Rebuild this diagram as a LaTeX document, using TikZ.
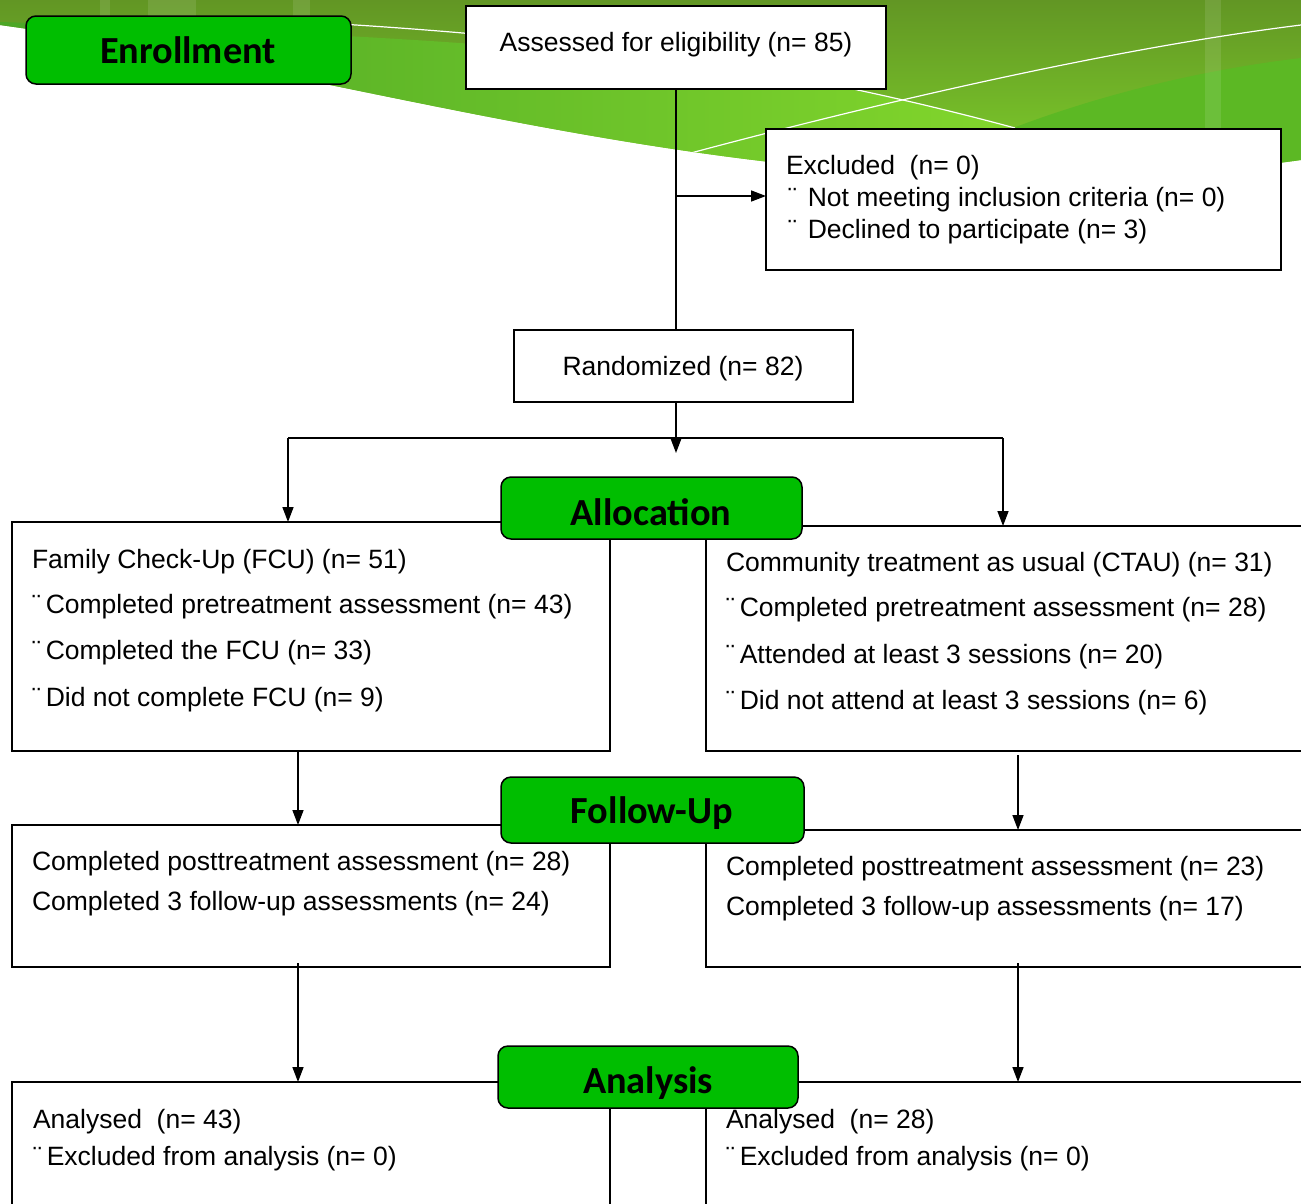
\documentclass[tikz,border=0pt]{standalone}
\usepackage{fontspec}
\setmainfont{Liberation Sans}
\newfontfamily\hdrfont{Carlito}
\usetikzlibrary{arrows.meta}
\definecolor{hgreen}{RGB}{0,190,0}
\definecolor{gtop}{RGB}{98,150,36}
\definecolor{glime}{RGB}{130,214,44}
\definecolor{gband}{RGB}{76,166,38}
\definecolor{gmid}{RGB}{92,184,36}
\newcommand\fs{\fontsize{26.5}{31}\selectfont}
\newcommand\hfs{\hdrfont\bfseries\fontsize{38.3}{44}\selectfont}
\tikzset{
  box/.style={draw, line width=1.8pt, fill=white, anchor=north west, outer sep=0pt, inner sep=0pt},
  hdr/.style={draw, line width=1.5pt, fill=hgreen, rounded corners=10pt, anchor=north west, outer sep=0pt, inner sep=0pt},
  txt/.style={anchor=base west, inner sep=0pt, outer sep=0pt, font=\fs},
  ctxt/.style={anchor=base, inner sep=0pt, outer sep=0pt, font=\fs},
  htxt/.style={anchor=base, inner sep=0pt, outer sep=0pt, font=\hfs},
  conn/.style={line width=1.5pt},
  arr/.style={conn, -{Triangle[length=15pt,width=11pt]}},
  wline/.style={white, line width=1.2pt}
}
\begin{document}
\begin{tikzpicture}[x=1pt,y=-1pt]
\useasboundingbox (0,0) rectangle (1301,1203);
\clip (0,0) rectangle (1301,1203);
\fill[white] (0,0) rectangle (1301,1203);
% background wave
\begin{scope}
  \clip (0,0) -- (1301,0) -- (1301,160) .. controls (800,230) and (400,80) .. (0,25) -- cycle;
  \shade[top color=gtop, bottom color=glime] (0,0) rectangle (1301,200);
  \shade[left color=gband, right color=glime] (0,22) .. controls (600,40) and (800,70) .. (1015,128) -- (1015,260) -- (0,260) -- cycle;
  \fill[gmid] (1013,128) .. controls (1100,95) and (1200,70) .. (1301,58) -- (1301,260) -- (1013,260) -- cycle;
  \fill[white, opacity=0.10] (100,0) rectangle (110,200);
  \fill[white, opacity=0.10] (148,0) rectangle (196,200);
  \fill[white, opacity=0.10] (293,0) rectangle (310,200);
  \fill[white, opacity=0.10] (1205,0) rectangle (1221,200);
  \draw[wline] (340,24) .. controls (600,40) and (800,70) .. (1015,128);
  \draw[wline] (676,157) .. controls (850,110) and (1100,50) .. (1301,25);
\end{scope}
% boxes
\node[box, minimum width=420pt, minimum height=83pt] (assess) at (466,6) {};
\node[box, minimum width=515pt, minimum height=141pt] (excl) at (766,129) {};
\node[box, minimum width=339pt, minimum height=72pt] (rand) at (514,330) {};
\node[box, minimum width=598pt, minimum height=229pt] (fcu) at (12,522) {};
\node[box, minimum width=620pt, minimum height=225pt] (ctau) at (706,526) {};
\node[box, minimum width=598pt, minimum height=142pt] (l2) at (12,825) {};
\node[box, minimum width=620pt, minimum height=137pt] (r2) at (706,830) {};
\node[box, minimum width=598pt, minimum height=160pt] (l3) at (12,1082) {};
\node[box, minimum width=620pt, minimum height=160pt] (r3) at (706,1082) {};
% connectors
\draw[conn] (assess.south) -- (assess.south |- rand.north);
\coordinate (j1) at (676,196);
\draw[arr] (j1) -- (j1 -| excl.west);
\coordinate (rtip) at (676,453);
\draw[arr] (rand.south -| assess.south) -- (rtip);
\coordinate (hl) at (288,438);
\coordinate (hr) at (1003,438);
\draw[conn] (hl) -- (hr);
\draw[arr] (hl) -- (hl |- fcu.north);
\draw[arr] (hr) -- (hr |- ctau.north);
\coordinate (a1) at (298,751);
\coordinate (a2) at (1018,755);
\coordinate (a3) at (298,963);
\coordinate (a4) at (1018,963);
\draw[arr] (a1) -- (a1 |- l2.north);
\draw[arr] (a2) -- (a2 |- r2.north);
\draw[arr] (a3) -- (a3 |- l3.north);
\draw[arr] (a4) -- (a4 |- r3.north);
% headers
\node[hdr, minimum width=325pt, minimum height=68pt] (enr) at (26,16) {};
\node[hdr, minimum width=301pt, minimum height=62pt] (alloc) at (501,477) {};
\node[hdr, minimum width=303pt, minimum height=66pt] (fu) at (501,777) {};
\node[hdr, minimum width=300pt, minimum height=62pt] (ana) at (498,1046) {};
\node[htxt] (enrt) at (188,63) {Enrollment};
\node[htxt] (allt) at (651,525) {Allocation};
\node[htxt] (fut) at (652,823) {Follow-Up};
\node[htxt] (anat) at (648,1093) {Analysis};
% texts
\node[ctxt] (t1) at (676,51) {Assessed for eligibility (n= 85)};
\node[txt] (t2) at (786,174) {Excluded\ \ (n= 0)};
\node[txt] (t3) at (788,206) {¨\hspace{11pt}Not meeting inclusion criteria (n= 0)};
\node[txt] (t4) at (788,238) {¨\hspace{11pt}Declined to participate (n= 3)};
\node[ctxt] (t5) at (683,375) {Randomized (n= 82)};
\node[txt] (f1) at (32,568) {Family Check-Up (FCU) (n= 51)};
\node[txt] (f2) at (32,613) {¨\hspace{5pt}Completed pretreatment assessment (n= 43)};
\node[txt] (f3) at (32,659) {¨\hspace{5pt}Completed the FCU (n= 33)};
\node[txt] (f4) at (32,706) {¨\hspace{5pt}Did not complete FCU (n= 9)};
\node[txt] (c1) at (726,571) {Community treatment as usual (CTAU) (n= 31)};
\node[txt] (c2) at (726,616) {¨\hspace{5pt}Completed pretreatment assessment (n= 28)};
\node[txt] (c3) at (726,663) {¨\hspace{5pt}Attended at least 3 sessions (n= 20)};
\node[txt] (c4) at (726,709) {¨\hspace{5pt}Did not attend at least 3 sessions (n= 6)};
\node[txt] (l2a) at (32,870) {Completed posttreatment assessment (n= 28)};
\node[txt] (l2b) at (32,910) {Completed 3 follow-up assessments (n= 24)};
\node[txt] (r2a) at (726,875) {Completed posttreatment assessment (n= 23)};
\node[txt] (r2b) at (726,915) {Completed 3 follow-up assessments (n= 17)};
\node[txt] (l3a) at (33,1128) {Analysed\ \ (n= 43)};
\node[txt] (l3b) at (33,1165) {¨\hspace{5pt}Excluded from analysis (n= 0)};
\node[txt] (r3a) at (726,1128) {Analysed\ \ (n= 28)};
\node[txt] (r3b) at (726,1165) {¨\hspace{5pt}Excluded from analysis (n= 0)};
\end{tikzpicture}
\end{document}
